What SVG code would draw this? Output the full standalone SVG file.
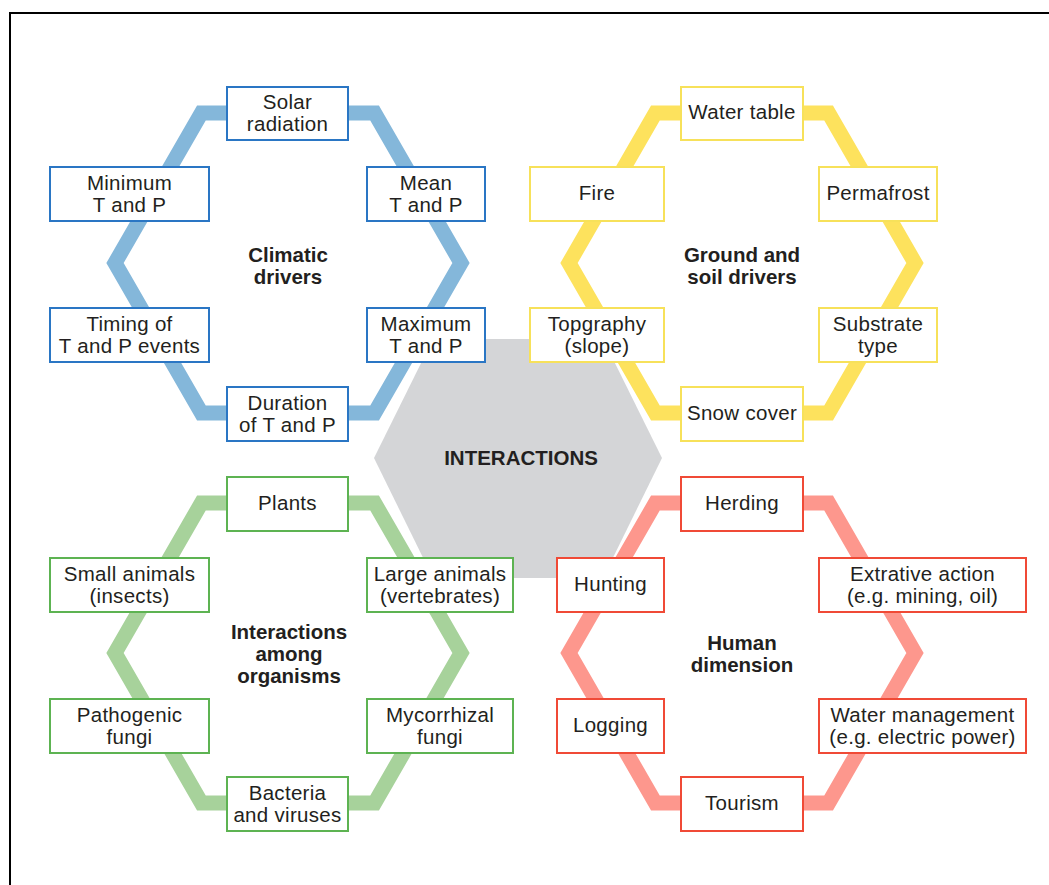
<svg xmlns="http://www.w3.org/2000/svg" width="1049" height="885" viewBox="0 0 1049 885">
<style>
.t{font-family:"Liberation Sans",Arial,sans-serif;font-size:20.5px;letter-spacing:0.3px;fill:#231f20;text-anchor:middle}
.b{font-weight:bold;letter-spacing:0}
.band{fill:none;stroke-width:15;stroke-linejoin:miter}
.box{fill:#fff;stroke-width:2}
.blue .box{stroke:#2a76c4}
.yellow .box{stroke:#f7e15a}
.green .box{stroke:#5db352}
.red .box{stroke:#f04a36}
</style>
<rect width="1049" height="885" fill="#fff"/>
<path d="M10,885 V13 H1049" fill="none" stroke="#000" stroke-width="2"/>
<g id="interactions">
<polygon points="374,458 433,339 603,339 662,458 603,578 433,578" fill="#d4d5d7"/>
<text class="t b" x="521" y="465">INTERACTIONS</text>
</g>
<g id="connectors">
<polygon class="band" stroke="#84b7da" points="115,263 201.4,113 374.6,113 461,263 374.6,413 201.4,413"/>
<polygon class="band" stroke="#fde25d" points="569,263 655.4,113 828.6,113 915,263 828.6,413 655.4,413"/>
<polygon class="band" stroke="#a7d29b" points="115,653 201.4,503 374.6,503 461,653 374.6,803 201.4,803"/>
<polygon class="band" stroke="#fd978d" points="569,653 655.4,503 828.6,503 915,653 828.6,803 655.4,803"/>
</g>
<g id="climatic" class="blue">
<text class="t b" x="288" y="262">Climatic</text>
<text class="t b" x="288" y="284">drivers</text>
<g id="solar"><rect class="box" x="227" y="87" width="121" height="53"/><text class="t" x="287.5" y="109">Solar</text><text class="t" x="287.5" y="131">radiation</text></g>
<g id="minimum"><rect class="box" x="50" y="167" width="159" height="54"/><text class="t" x="129.5" y="189.5">Minimum</text><text class="t" x="129.5" y="211.5">T and P</text></g>
<g id="mean"><rect class="box" x="367" y="167" width="118" height="54"/><text class="t" x="426" y="189.5">Mean</text><text class="t" x="426" y="211.5">T and P</text></g>
<g id="timing"><rect class="box" x="50" y="308" width="159" height="54"/><text class="t" x="129.5" y="330.5">Timing of</text><text class="t" x="129.5" y="352.5">T and P events</text></g>
<g id="maximum"><rect class="box" x="367" y="308" width="118" height="54"/><text class="t" x="426" y="330.5">Maximum</text><text class="t" x="426" y="352.5">T and P</text></g>
<g id="duration"><rect class="box" x="227" y="387" width="121" height="54"/><text class="t" x="287.5" y="409.5">Duration</text><text class="t" x="287.5" y="431.5">of T and P</text></g>
</g>
<g id="ground" class="yellow">
<text class="t b" x="742" y="262">Ground and</text>
<text class="t b" x="742" y="284">soil drivers</text>
<g id="watertable"><rect class="box" x="681" y="87" width="122" height="53"/><text class="t" x="742" y="119">Water table</text></g>
<g id="fire"><rect class="box" x="530" y="167" width="134" height="54"/><text class="t" x="597" y="200">Fire</text></g>
<g id="permafrost"><rect class="box" x="819" y="167" width="118" height="54"/><text class="t" x="878" y="200">Permafrost</text></g>
<g id="topography"><rect class="box" x="530" y="308" width="134" height="54"/><text class="t" x="597" y="330.5">Topgraphy</text><text class="t" x="597" y="352.5">(slope)</text></g>
<g id="substrate"><rect class="box" x="819" y="308" width="118" height="54"/><text class="t" x="878" y="330.5">Substrate</text><text class="t" x="878" y="352.5">type</text></g>
<g id="snow"><rect class="box" x="681" y="387" width="122" height="54"/><text class="t" x="742" y="420">Snow cover</text></g>
</g>
<g id="organisms" class="green">
<text class="t b" x="289" y="639">Interactions</text>
<text class="t b" x="289" y="661">among</text>
<text class="t b" x="289" y="683">organisms</text>
<g id="plants"><rect class="box" x="227" y="477" width="121" height="54"/><text class="t" x="287.5" y="510">Plants</text></g>
<g id="small"><rect class="box" x="50" y="558" width="159" height="54"/><text class="t" x="129.5" y="580.5">Small animals</text><text class="t" x="129.5" y="602.5">(insects)</text></g>
<g id="large"><rect class="box" x="367" y="558" width="146" height="54"/><text class="t" x="440" y="580.5">Large animals</text><text class="t" x="440" y="602.5">(vertebrates)</text></g>
<g id="pathogenic"><rect class="box" x="50" y="699" width="159" height="54"/><text class="t" x="129.5" y="721.5">Pathogenic</text><text class="t" x="129.5" y="743.5">fungi</text></g>
<g id="mycorrhizal"><rect class="box" x="367" y="699" width="146" height="54"/><text class="t" x="440" y="721.5">Mycorrhizal</text><text class="t" x="440" y="743.5">fungi</text></g>
<g id="bacteria"><rect class="box" x="227" y="777" width="121" height="54"/><text class="t" x="287.5" y="799.5">Bacteria</text><text class="t" x="287.5" y="821.5">and viruses</text></g>
</g>
<g id="human" class="red">
<text class="t b" x="742" y="650">Human</text>
<text class="t b" x="742" y="672">dimension</text>
<g id="herding"><rect class="box" x="681" y="477" width="122" height="54"/><text class="t" x="742" y="510">Herding</text></g>
<g id="hunting"><rect class="box" x="557" y="558" width="107" height="54"/><text class="t" x="610.5" y="591">Hunting</text></g>
<g id="extractive"><rect class="box" x="819" y="558" width="207" height="54"/><text class="t" x="922.5" y="580.5">Extrative action</text><text class="t" x="922.5" y="602.5">(e.g. mining, oil)</text></g>
<g id="logging"><rect class="box" x="557" y="699" width="107" height="54"/><text class="t" x="610.5" y="732">Logging</text></g>
<g id="water"><rect class="box" x="819" y="699" width="207" height="54"/><text class="t" x="922.5" y="721.5">Water management</text><text class="t" x="922.5" y="743.5">(e.g. electric power)</text></g>
<g id="tourism"><rect class="box" x="681" y="777" width="122" height="54"/><text class="t" x="742" y="810">Tourism</text></g>
</g>
</svg>
